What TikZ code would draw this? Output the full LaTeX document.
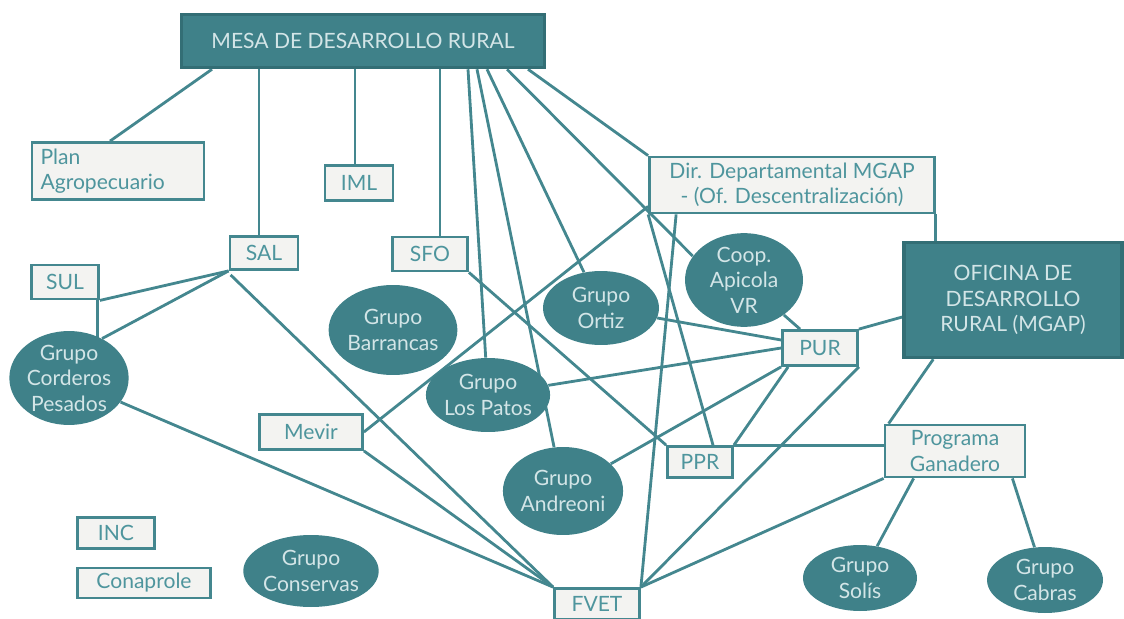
\documentclass[tikz,border=0pt]{standalone}
\usepackage{fontspec}
\setmainfont{Lato}
\usetikzlibrary{calc,backgrounds,shapes.geometric}
\definecolor{lineteal}{HTML}{44878F}
\definecolor{darkfill}{HTML}{3F8189}
\definecolor{darkline}{HTML}{336E75}
\definecolor{darktext}{HTML}{D3E5E7}
\definecolor{boxfill}{HTML}{F3F3F1}
\definecolor{boxtext}{HTML}{4E959D}

\begin{document}
\begin{tikzpicture}[x=0.02cm, y=-0.02cm,
	every node/.style={font=\fontsize{12}{14.5}\selectfont},
	box node/.style={rectangle, draw=lineteal, line width=1.6pt, fill=boxfill, text=boxtext, inner sep=1pt, align=center},
	dark node/.style={rectangle, draw=darkline, line width=2pt, fill=darkfill, text=darktext, inner sep=1pt, align=center},
	group node/.style={ellipse, fill=darkfill, text=darktext, inner sep=0pt, align=center}]
	\useasboundingbox (0,0) rectangle (1124,618);

	% top level
	\node[dark node, minimum width=7.26cm, minimum height=1.06cm] (mesa) at (363,41) {MESA DE DESARROLLO RURAL};
	\node[box node, minimum width=3.44cm, minimum height=1.14cm, align=left, text width=3.1cm] (plan) at (118,171) {Plan\\Agropecuario};
	\node[box node, minimum width=1.36cm, minimum height=0.70cm] (iml) at (359,183) {IML};
	\node[box node, minimum width=5.70cm, minimum height=1.12cm] (dir) at (792,185) {Dir. Departamental MGAP\\- (Of. Descentralización)};
	\node[dark node, minimum width=4.36cm, minimum height=2.30cm] (oficina) at (1013,300) {OFICINA DE\\DESARROLLO\\RURAL (MGAP)};

	% middle
	\node[box node, minimum width=1.36cm, minimum height=0.66cm] (sal) at (264,253) {SAL};
	\node[box node, minimum width=1.50cm, minimum height=0.68cm] (sfo) at (430,254) {SFO};
	\node[box node, minimum width=1.34cm, minimum height=0.68cm] (sul) at (65,282) {SUL};
	\node[group node, minimum width=2.36cm, minimum height=1.80cm] (corderos) at (69,378) {Grupo\\Corderos\\Pesados};
	\node[group node, minimum width=2.40cm, minimum height=1.80cm] (barrancas) at (393,330) {Grupo\\Barrancas};
	\node[group node, minimum width=2.32cm, minimum height=1.48cm] (ortiz) at (601,308) {Grupo\\Ortiz};
	\node[group node, minimum width=2.36cm, minimum height=1.48cm] (apicola) at (744,280) {Coop.\\Apicola\\VR};
	\node[group node, minimum width=2.32cm, minimum height=1.48cm] (patos) at (488,395) {Grupo\\Los Patos};
	\node[box node, minimum width=1.50cm, minimum height=0.70cm] (pur) at (820,348) {PUR};
	\node[box node, minimum width=2.06cm, minimum height=0.70cm] (mevir) at (311,432) {Mevir};
	\node[group node, minimum width=2.32cm, minimum height=1.76cm] (andreoni) at (563,491) {Grupo\\Andreoni};
	\node[box node, minimum width=1.30cm, minimum height=0.62cm] (ppr) at (700,462) {PPR};
	\node[box node, minimum width=2.80cm, minimum height=1.04cm] (ganadero) at (955,451) {Programa\\Ganadero};

	% bottom
	\node[box node, minimum width=1.54cm, minimum height=0.62cm] (inc) at (116,533) {INC};
	\node[box node, minimum width=2.66cm, minimum height=0.60cm] (conaprole) at (144,583) {Conaprole};
	\node[group node, minimum width=2.48cm, minimum height=1.44cm] (conservas) at (311,571) {Grupo\\Conservas};
	\node[box node, minimum width=1.70cm, minimum height=0.62cm] (fvet) at (597,604) {FVET};
	\node[group node, minimum width=2.28cm, minimum height=1.32cm] (solis) at (860,578) {Grupo\\Solís};
	\node[group node, minimum width=2.32cm, minimum height=1.32cm] (cabras) at (1045,580) {Grupo\\Cabras};

	\begin{pgfonlayer}{background}
	\path[every edge/.style={draw=lineteal, line width=1.6pt}]
		($(mesa.south)+(-151,0)$) edge ($(plan.north)+(-8,0)$)
		($(mesa.south)+(-104,0)$) edge ($(sal.north)+(-5,0)$)
		($(mesa.south)+(-8,0)$) edge ($(iml.north)+(-4,0)$)
		($(mesa.south)+(77,0)$) edge ($(sfo.north)+(10,0)$)
		($(mesa.south)+(105,0)$) edge (patos)
		($(mesa.south)+(114,0)$) edge (andreoni)
		($(mesa.south)+(124,0)$) edge (ortiz)
		($(mesa.south)+(144,0)$) edge (apicola.155)
		($(mesa.south)+(165,0)$) edge (dir.north west)
		(dir.south east) edge (dir.south east |- oficina.north)
		(dir.south west) edge ($(ppr.north)+(13,0)$)
		($(dir.south west)+(28,0)$) edge (fvet.north east)
		($(dir.south west)+(0,-8)$) edge (mevir.east)
		(sal.south west) edge (sul.south east)
		(sal.south west) edge (corderos.50)
		($(sul.south east)+(-2,0)$) edge ($(sul.south east)+(-2,50)$)
		($(sal.south west)+(2,4)$) edge (fvet.north west)
		(corderos.-25) edge (fvet.north west)
		(mevir.south east) edge (fvet.north west)
		(sfo.south east) edge (ppr.north west)
		(ortiz) edge ($(pur.west)+(0,-8)$)
		(patos) edge (pur.west)
		(andreoni) edge (pur.south west)
		(ppr.north east) edge ($(pur.south west)+(7,0)$)
		(apicola) edge ($(pur.north)+(-20,0)$)
		($(oficina.west)+(0,17)$) edge (pur.north east)
		(pur.south east) edge (fvet.north east)
		(ppr.north east) edge (ppr.north east -| ganadero.west)
		(fvet.north east) edge (ganadero.south west)
		($(ganadero.north west)+(5,0)$) edge ($(oficina.south west)+(31,0)$)
		($(ganadero.south west)+(30,0)$) edge (solis)
		($(ganadero.south east)+(-14,0)$) edge (cabras);
	\end{pgfonlayer}
\end{tikzpicture}
\end{document}
